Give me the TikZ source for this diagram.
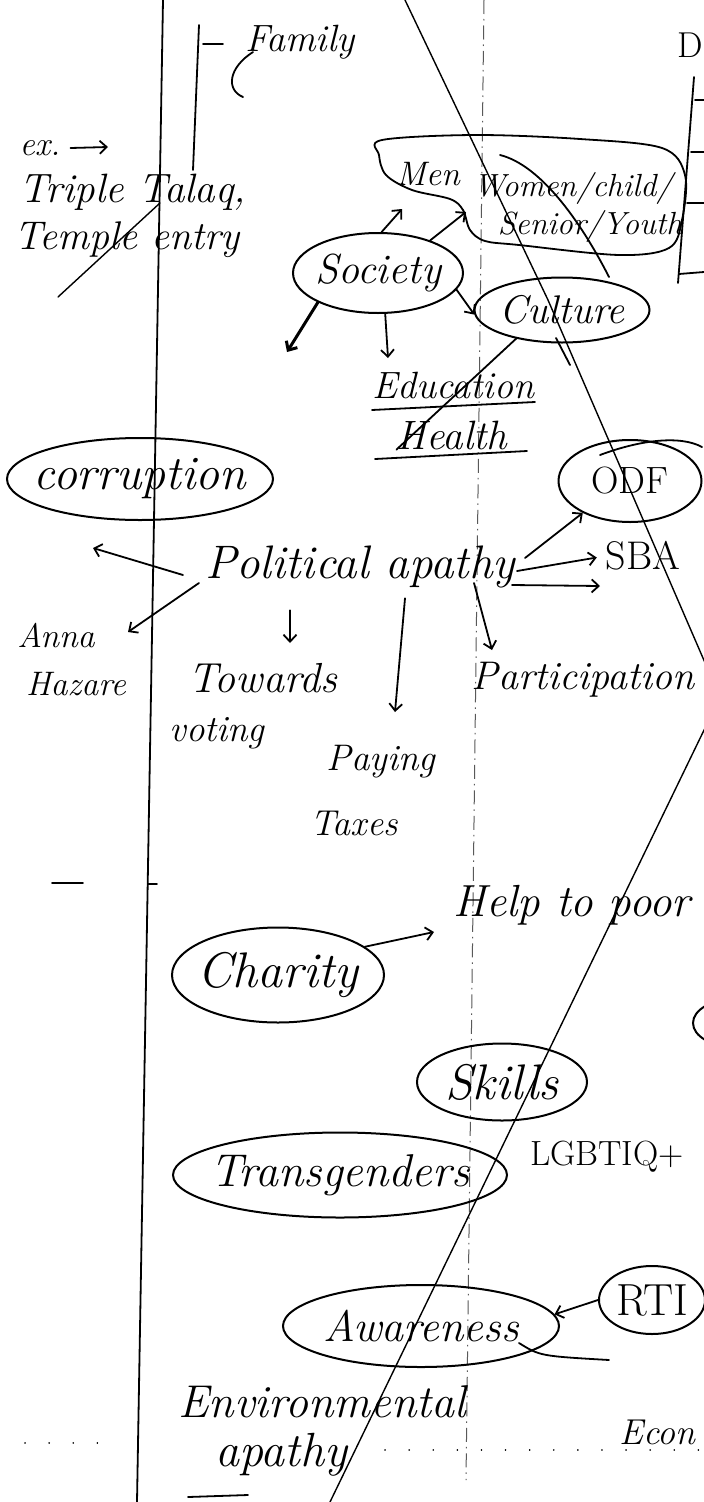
\documentclass[tikz,border=0pt]{standalone}
\usetikzlibrary{shapes.geometric,arrows.meta}
\tikzset{
  fs/.style={font=\fontsize{#1pt}{#1pt}\selectfont\itshape, inner sep=0pt},
  fsu/.style={font=\fontsize{#1pt}{#1pt}\selectfont, inner sep=0pt},
  pen/.style={line width=1.8pt, line cap=round, line join=round},
  thinpen/.style={line width=1.4pt, line cap=round},
  bubble/.style={draw, ellipse, line width=2pt, inner sep=0pt},
  arrs/.style={pen, -{Straight Barb[length=7pt,width=13pt]}},
  guide/.style={line width=1pt, gray!70!black, dash pattern=on 14pt off 5pt on 1.5pt off 5pt},
  dots/.style={line width=1.6pt, line cap=round, dash pattern=on 0.1pt off 24pt},
}
\begin{document}
\begin{tikzpicture}[x=1pt,y=-1pt]
\useasboundingbox[fill=white] (0,0) rectangle (704,1502);

% rules and guide lines
\draw[pen] (163,0) -- (137,1502);
\draw[guide] (484,0) -- (466,1480);
\draw[thinpen] (405,0) -- (548,300) -- (706,665);
\draw[thinpen] (330,1502) -- (706,726);
\draw[thinpen] (58,297) -- (160,203);

% top right bracket
\node[fsu=36, anchor=east] (dd) at (703,45) {D};
\draw[pen] (694,77) -- (678,283);
\draw[pen] (695,100) -- (704,100);
\draw[pen] (691,152) -- (704,152);
\draw[pen] (687,203) -- (704,203);
\draw[pen] (679,274) -- (704,272);

% family
\node[fs=38] (family) at (300,42) {Family};
\draw[pen] (199,25) -- (193,170);
\draw[pen] (203,44) -- (223,44);
\draw[pen] (253,52) .. controls (228,68) and (226,90) .. (243,97);

% examples
\node[fs=34] (ex) at (40,148) {ex.};
\coordinate (exend) at (108,147);
\draw[arrs] ([xshift=10pt]ex.east) -- (exend);
\node[fs=41] (talaq) at (133,192) {Triple Talaq,};
\node[fs=40] (temple) at (127,240) {Temple entry};

% men / women group
\draw[pen] plot[smooth cycle, tension=0.55] coordinates {(382,140) (475,135) (580,139) (662,148) (685,175) (682,220) (669,248) (619,255) (519,245) (485,241) (470,230) (463,210) (450,199) (412,190) (386,175) (379,155)};
\node[fs=34] (men) at (428,174) {Men};
\node[fs=32] (women) at (573,188) {Women/child/};
\node[fs=32] (senior) at (590,226) {Senior/Youth};
\draw[pen] (500,155) .. controls (540,165) and (580,220) .. (609,277);

% society
\node[bubble, minimum width=170pt, minimum height=80pt, label={[fs=42]center:Society}] (soc) at (378,273) {};
\coordinate (smen) at (402,209);
\coordinate (swom) at (466,212);
\coordinate (sdl) at (287,352);
\coordinate (sdn) at (388,358);
\draw[arrs] (soc.85) -- (smen);
\draw[arrs] (soc.32) -- (swom);
\draw[arrs, line width=3pt] (soc.206) -- (sdl);
\draw[arrs] (soc.280) -- (sdn);

% culture
\node[bubble, minimum width=175pt, minimum height=65pt, label={[fs=40]center:Culture}] (cult) at (562,310) {};
\draw[arrs] (soc.-12) -- (cult.183);
\draw[pen] (556,338) -- (570,365);

% education / health
\node[fs=38] (edu) at (453,385) {Education};
\draw[pen] (372,410) -- (535,402);
\node[fs=41] (hea) at (452,435) {Health};
\draw[pen] (375,459) -- (527,451);
\draw[pen] (cult.212) -- (hea.south west);

% corruption & political apathy
\node[bubble, minimum width=266pt, minimum height=82pt, label={[fs=48]center:corruption}] (cor) at (140,479) {};
\node[fs=47] (pol) at (360,567) {Political apathy};
\node[bubble, minimum width=143pt, minimum height=82pt, label={[fsu=38]center:ODF}] (odf) at (630,481) {};
\draw[pen] (600,455) .. controls (640,440) and (680,435) .. (702,447);
\node[fsu=40] (sba) at (643,556) {SBA};
\node[fs=34] (anna) at (56,636) {Anna};
\node[fs=34] (haz) at (76,684) {Hazare};
\node[fs=42] (tow) at (263,678) {Towards};
\node[fs=37] (vot) at (217,733) {voting};
\node[fs=37] (pay) at (381,762) {Paying};
\node[fs=36] (tax) at (354,823) {Taxes};
\node[fs=40] (part) at (583,680) {Participation};

\coordinate (pa1) at (93,548);
\coordinate (pa2) at (128,632);
\coordinate (pa3) at (290,643);
\coordinate (pa4) at (395,712);
\coordinate (pa5) at (492,650);
\coordinate (pa7) at (600,586);
\draw[arrs] ([xshift=-22pt,yshift=-8pt]pol.west) -- (pa1);
\draw[arrs] ([xshift=-6pt,yshift=-16pt]pol.west) -- (pa2);
\draw[arrs] ([xshift=-70pt,yshift=-22pt]pol.south) -- (pa3);
\draw[arrs] ([xshift=45pt,yshift=-10pt]pol.south) -- (pa4);
\draw[arrs] ([xshift=-41pt,yshift=-16pt]pol.east) -- (pa5);
\draw[arrs] ([xshift=10pt,yshift=9pt]pol.east) -- (odf.214);
\draw[arrs, shorten >=9pt] ([xshift=2pt,yshift=-4pt]pol.east) -- (sba.west);
\draw[arrs] ([xshift=-3pt,yshift=-18pt]pol.east) -- (pa7);

% small marks
\draw[pen] (52,883) -- (83,883);
\draw[pen] (148,884) -- (157,884);

% charity
\node[bubble, minimum width=212pt, minimum height=95pt, label={[fs=50]center:Charity}] (char) at (278,975) {};
\node[fs=45] (help) at (572,905) {Help to poor};
\coordinate (ch1) at (434,932);
\draw[arrs] (char.18) -- (ch1);
\node[bubble, minimum width=84pt, minimum height=48pt] (cut) at (735,1023) {};

% skills etc.
\node[bubble, minimum width=170pt, minimum height=77pt, label={[fs=50]center:Skills}] (sk) at (502,1082) {};
\node[bubble, minimum width=334pt, minimum height=85pt, label={[fs=46]center:Transgenders}] (tg) at (340,1175) {};
\node[fsu=35] (lg) at (607,1157) {LGBTIQ+};
\node[bubble, minimum width=276pt, minimum height=82pt, label={[fs=44]center:Awareness}] (aw) at (421,1326) {};
\node[bubble, minimum width=106pt, minimum height=68pt, label={[fsu=45]center:RTI}] (rti) at (652,1300) {};
\draw[arrs] (rti.west) -- (aw.5);
\draw[pen] (519,1343) .. controls (540,1356) .. (609,1360);

% environmental apathy
\node[fs=46] (env) at (322,1402) {Environmental};
\node[fs=48] (envap) at (281,1455) {apathy};
\draw[pen] (188,1497) -- (248,1495);
\node[fs=36, anchor=west] (econ) at (619,1432) {Econ};
\draw[dots] (385,1450) -- (700,1450);
\draw[dots] (25,1443) -- (100,1443);
\end{tikzpicture}
\end{document}
